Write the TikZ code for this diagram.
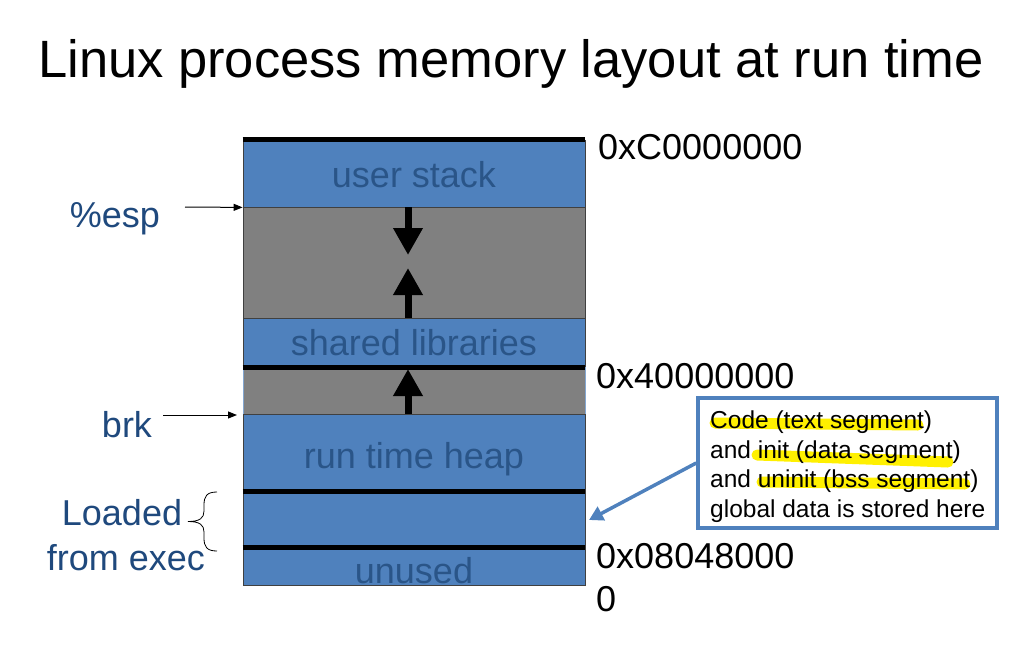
\documentclass[tikz,border=0pt]{standalone}
\usepackage{fontspec}
\setmainfont{Liberation Sans}
\usetikzlibrary{arrows.meta}
\definecolor{segblue}{HTML}{4F81BD}
\definecolor{segtext}{HTML}{2A5588}
\definecolor{labblue}{HTML}{1F497D}
\definecolor{gapgrey}{HTML}{808080}
\definecolor{hilite}{HTML}{FFF000}
\begin{document}
\begin{tikzpicture}[x=1pt,y=-1pt,
  seg/.style={draw=black!75, line width=0.8pt, minimum width=342pt, inner sep=0pt, anchor=center},
  blueseg/.style={seg, fill=segblue},
  greyseg/.style={seg, fill=gapgrey},
  segtxt/.style={anchor=base, text=segtext, font=\fontsize{36}{40}\selectfont, inner sep=0pt},
  lab/.style={anchor=base, text=labblue, font=\fontsize{36}{40}\selectfont, inner sep=0pt},
  hex/.style={anchor=base west, text=black, font=\fontsize{36}{40}\selectfont, inner sep=0pt},
  note/.style={anchor=base west, text=black, font=\fontsize{24.5}{28}\selectfont, inner sep=0pt},
  bar/.style={line width=5pt, black},
  bigarrow/.style={line width=7pt, -{Triangle[width=28pt,length=27pt]}},
  ptr/.style={line width=1pt, -{Triangle[width=7pt,length=9pt]}},
  hl/.style={line width=11pt, hilite, line cap=round},
  callarrow/.style={line width=3.5pt, segblue, -{Triangle[width=15pt,length=14pt]}}
]
\useasboundingbox (0,0) rectangle (1028,656);

% title
\node[anchor=base, inner sep=0pt, font=\fontsize{52.5}{60}\selectfont] (title) at (511,77) {Linux process memory layout at run time};

% memory segments
\node[blueseg, minimum height=67pt]   (stack)  at (414,173.5) {};
\node[greyseg, minimum height=111pt]  (gap1)   at (414,262.5) {};
\node[blueseg, minimum height=49pt]   (shlib)  at (414,342.5) {};
\node[greyseg, draw=segblue!70, minimum height=47pt] (gap2) at (414,390.5) {};
\node[blueseg, minimum height=77.5pt] (heap)   at (414,452.75) {};
\node[blueseg, minimum height=56pt]   (data)   at (414,519.5) {};
\node[blueseg, minimum height=37.5pt] (unused) at (414,566.25) {};

% boundary bars
\draw[bar] (stack.north west) -- (stack.north east);
\draw[bar] (shlib.south west) -- (shlib.south east);
\draw[bar] (heap.south west) -- (heap.south east);
\draw[bar] (data.south west) -- (data.south east);

% segment labels
\node[segtxt] (stacktxt)  at (414,187) {user stack};
\node[segtxt] (shlibtxt)  at (414,355) {shared libraries};
\node[segtxt] (heaptxt)   at (414,468) {run time heap};
\node[segtxt] (unusedtxt) at (414,583) {unused};

% growth arrows
\coordinate (d0) at (408,207);
\coordinate (d1) at (408,255);
\coordinate (u0) at (408,318);
\coordinate (u1) at (408,268);
\coordinate (v0) at (408,414);
\coordinate (v1) at (408,369);
\draw[bigarrow] (d0) -- (d1);
\draw[bigarrow] (u0) -- (u1);
\draw[bigarrow] (v0) -- (v1);

% addresses
\node[hex] (a1) at (598,159) {0xC0000000};
\node[hex] (a2) at (596,388) {0x40000000};
\node[hex] (a3) at (596,568) {0x08048000};
\node[hex] (a4) at (596,611) {0};

% left labels
\node[lab] (esp) at (115,227) {\%esp};
\node[lab] (brk) at (127,437) {brk};
\node[lab] (loaded) at (122,525) {Loaded};
\node[lab] (fromexec) at (126,570) {from exec};

\coordinate (espfrom) at (185,207);
\coordinate (brkfrom) at (163,415);
\coordinate (brkto) at (237,415);
\draw[ptr] (espfrom) -- (stack.south west);
\draw[ptr] (brkfrom) -- (brkto);

% brace
\draw[line width=0.8pt] (217,492) .. controls (207,492) and (204,496) .. (204,505)
  -- (204,511) .. controls (204,518) and (200,521.5) .. (188,521.5)
  .. controls (200,521.5) and (204,525) .. (204,532)
  -- (204,538) .. controls (204,547) and (207,551) .. (217,551);

% callout
\node[draw=segblue, line width=3.5pt, fill=white, minimum width=299pt, minimum height=130pt, inner sep=0pt] (callout) at (847.5,463) {};
\draw[hl] (715,423) -- (918,425);
\draw[hl] (757,455) -- (948,462);
\draw[hl] (762,482) -- (965,484);
\node[note] (n1) at (710,428) {Code (text segment)};
\node[note] (n2) at (710,458) {and init (data segment)};
\node[note] (n3) at (710,487.5) {and uninit (bss segment)};
\node[note] (n4) at (710,517) {global data is stored here};
\coordinate (calltip) at (589,520);
\draw[callarrow] (callout.west) -- (calltip);
\end{tikzpicture}
\end{document}
